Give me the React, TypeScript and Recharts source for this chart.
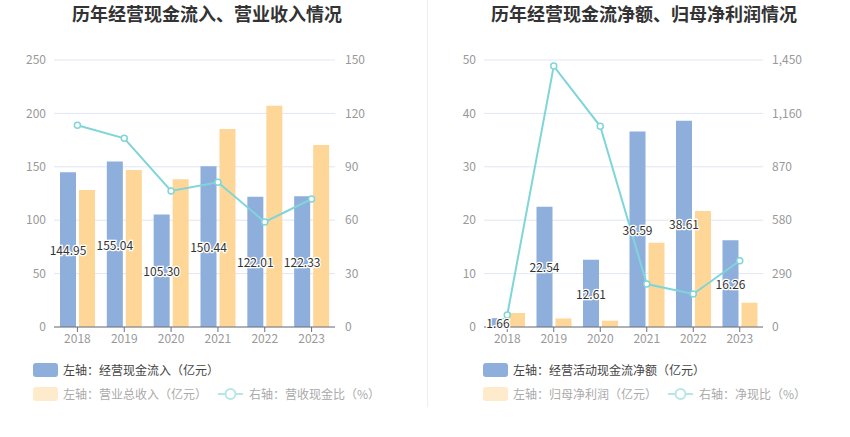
import React from 'react';
import { ComposedChart, Bar, Line, XAxis, YAxis, CartesianGrid, LabelList } from 'recharts';

const years = ['2018', '2019', '2020', '2021', '2022', '2023'];
const cashInflow = [144.95, 155.04, 105.3, 150.44, 122.01, 122.33];
const revenue = [128.3, 147.0, 138.3, 185.4, 207.2, 170.4];
const cashRatio = [113.3, 106.0, 76.4, 81.3, 59.0, 71.9];
const netCashFlow = [1.66, 22.54, 12.61, 36.59, 38.61, 16.26];
const netProfit = [2.62, 1.6, 1.18, 15.8, 21.7, 4.55];
const netCashRatio = [65, 1417, 1090, 233, 179, 360];

const leftTicks1 = [0, 50, 100, 150, 200, 250];
const rightTicks1 = [0, 30, 60, 90, 120, 150];
const leftTicks2 = [0, 10, 20, 30, 40, 50];
const rightTicks2 = [0, 290, 580, 870, 1160, 1450];

const data1 = years.map((y, i) => ({ year: y, inflow: cashInflow[i], revenue: revenue[i], ratio: cashRatio[i] }));
const data2 = years.map((y, i) => ({ year: y, net: netCashFlow[i], profit: netProfit[i], ratio: netCashRatio[i] }));

const BLUE = '#8eaedc';
const ORANGE = '#fed798';
const TEAL = '#80d5d9';
const FONT = '"Noto Sans CJK SC", "Noto Sans", sans-serif';
const tickStyle = { fontSize: 12, fill: '#999', fontFamily: FONT };

const renderLabel = (props: any) => {
  const { x, y, width, height, value } = props;
  return (
    <text
      x={Number(x) + Number(width) / 2}
      y={Number(y) + Number(height) / 2}
      textAnchor="middle"
      dominantBaseline="central"
      fontSize={12}
      fontFamily={FONT}
      fill="#333"
      stroke="#fff"
      strokeWidth={2.5}
      paintOrder="stroke"
    >
      {Number(value).toFixed(2)}
    </text>
  );
};

const fmt = (v: number) => v.toLocaleString('en-US');

const LegendRect = ({ color }: { color: string }) => (
  <span style={{ display: 'inline-block', width: 25, height: 14, borderRadius: 3, background: color, marginRight: 5, verticalAlign: 'middle' }} />
);
const LegendLine = ({ color }: { color: string }) => (
  <svg width={25} height={14} style={{ verticalAlign: 'middle', marginRight: 6 }}>
    <line x1={0} y1={7} x2={25} y2={7} stroke={color} strokeWidth={2} />
    <circle cx={12.5} cy={7} r={5} fill="#fff" stroke={color} strokeWidth={2} />
  </svg>
);

const Legend = ({ left, t1, t2, t3, gap }: { left: number; t1: string; t2: string; t3: string; gap: number }) => (
  <div style={{ position: 'absolute', left, top: 361, fontFamily: FONT, fontSize: 12, whiteSpace: 'nowrap' }}>
    <div style={{ height: 14, lineHeight: '14px', color: '#444' }}>
      <LegendRect color={BLUE} />
      <span style={{ verticalAlign: 'middle' }}>{t1}</span>
    </div>
    <div style={{ height: 14, lineHeight: '14px', marginTop: 10, color: '#aaa' }}>
      <LegendRect color="#fdebcc" />
      <span style={{ verticalAlign: 'middle', marginRight: gap }}>{t2}</span>
      <LegendLine color="#b5e6e8" />
      <span style={{ verticalAlign: 'middle' }}>{t3}</span>
    </div>
  </div>
);

export default function App() {
  return (
    <div style={{ position: 'absolute', left: 0, top: 0, width: 850, height: 437, background: '#fff', fontFamily: FONT }}>
      <div style={{ position: 'absolute', left: 0, width: 414, top: 0, height: 27, lineHeight: '27px', textAlign: 'center', fontSize: 18, fontWeight: 'bold', color: '#333' }}>
        历年经营现金流入、营业收入情况
      </div>
      <div style={{ position: 'absolute', left: 439, width: 410, top: 0, height: 27, lineHeight: '27px', textAlign: 'center', fontSize: 18, fontWeight: 'bold', color: '#333' }}>
        历年经营现金流净额、归母净利润情况
      </div>
      <div style={{ position: 'absolute', left: 427, top: 0, width: 1, height: 407, background: '#eeeeee' }} />

      <div style={{ position: 'absolute', left: 0, top: 0 }}>
        <ComposedChart width={425} height={437} data={data1} margin={{ top: 60, right: 50, bottom: 80, left: 0 }} barSize={16} barGap={3}>
          <CartesianGrid vertical={false} stroke="#e0e6f1" yAxisId="l" />
          <XAxis dataKey="year" height={30} tick={tickStyle} tickSize={5} axisLine={{ stroke: '#6e7079' }} tickLine={{ stroke: '#6e7079' }} />
          <YAxis yAxisId="l" orientation="left" width={54} domain={[0, 250]} ticks={leftTicks1} axisLine={false} tickLine={false} tick={tickStyle} />
          <YAxis yAxisId="r" orientation="right" width={40} domain={[0, 150]} ticks={rightTicks1} axisLine={false} tickLine={false} tick={tickStyle} tickMargin={4} />
          <Bar yAxisId="l" dataKey="inflow" fill={BLUE} isAnimationActive={false}>
            <LabelList dataKey="inflow" content={renderLabel} />
          </Bar>
          <Bar yAxisId="l" dataKey="revenue" fill={ORANGE} isAnimationActive={false} />
          <Line yAxisId="r" dataKey="ratio" stroke={TEAL} strokeWidth={2} dot={{ r: 3, fill: '#fff', stroke: TEAL, strokeWidth: 1.5 }} isAnimationActive={false} />
        </ComposedChart>
      </div>

      <div style={{ position: 'absolute', left: 425, top: 0 }}>
        <ComposedChart width={425} height={437} data={data2} margin={{ top: 60, right: 37, bottom: 80, left: 0 }} barSize={16} barGap={3}>
          <CartesianGrid vertical={false} stroke="#e0e6f1" yAxisId="l" />
          <XAxis dataKey="year" height={30} tick={tickStyle} tickSize={5} axisLine={{ stroke: '#6e7079' }} tickLine={{ stroke: '#6e7079' }} />
          <YAxis yAxisId="l" orientation="left" width={59} domain={[0, 50]} ticks={leftTicks2} axisLine={false} tickLine={false} tick={tickStyle} />
          <YAxis yAxisId="r" orientation="right" width={50} domain={[0, 1450]} ticks={rightTicks2} axisLine={false} tickLine={false} tick={tickStyle} tickMargin={3} tickFormatter={fmt} />
          <Bar yAxisId="l" dataKey="net" fill={BLUE} isAnimationActive={false}>
            <LabelList dataKey="net" content={renderLabel} />
          </Bar>
          <Bar yAxisId="l" dataKey="profit" fill={ORANGE} isAnimationActive={false} />
          <Line yAxisId="r" dataKey="ratio" stroke={TEAL} strokeWidth={2} dot={{ r: 3, fill: '#fff', stroke: TEAL, strokeWidth: 1.5 }} isAnimationActive={false} />
        </ComposedChart>
      </div>

      <Legend left={33} t1="左轴：经营现金流入（亿元）" t2="左轴：营业总收入（亿元）" t3="右轴：营收现金比（%）" gap={11} />
      <Legend left={483} t1="左轴：经营活动现金流净额（亿元）" t2="左轴：归母净利润（亿元）" t3="右轴：净现比（%）" gap={11} />
    </div>
  );
}
